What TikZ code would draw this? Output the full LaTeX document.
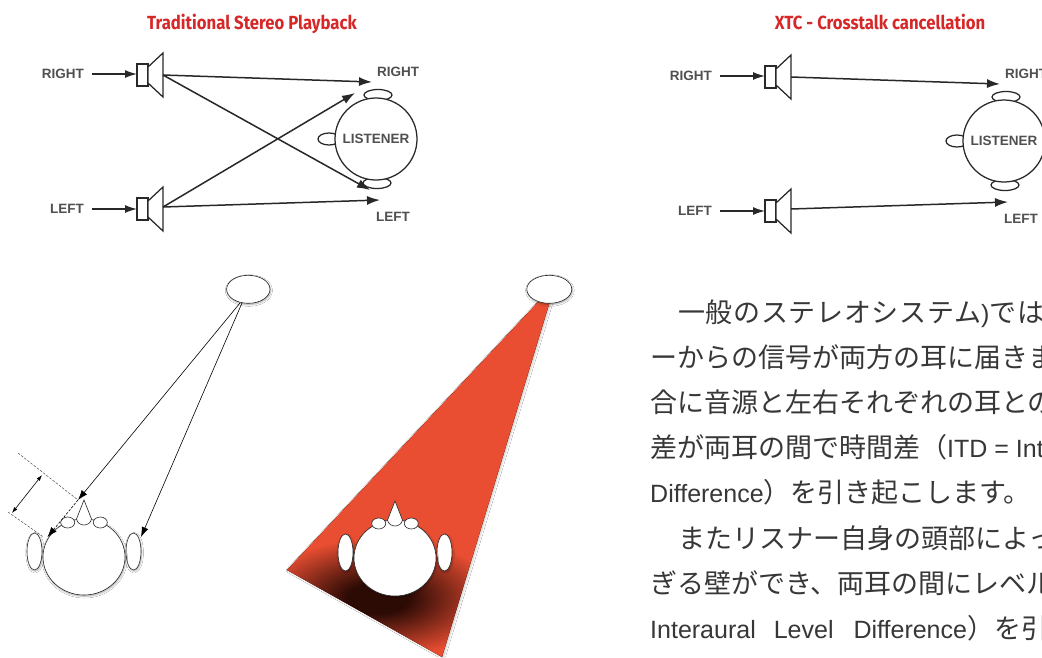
\documentclass[tikz,border=0pt]{standalone}
\usepackage{fontspec}
\setmainfont{Liberation Sans}
\newfontfamily\jpfont{Noto Sans CJK JP}
\newfontfamily\latfont{Liberation Sans}
\newfontfamily\titlefont[FakeStretch=0.88]{Fira Sans}
\usetikzlibrary{arrows.meta,shadows.blur}

\definecolor{titlered}{RGB}{214,40,40}
\definecolor{beamred}{RGB}{234,78,50}
\definecolor{shadedark}{RGB}{45,11,5}
\definecolor{labelgray}{RGB}{80,80,80}
\definecolor{linegray}{RGB}{40,40,40}
\definecolor{textgray}{RGB}{55,55,55}

% dark patch under the head, fading into the beam colour
\pgfdeclareradialshading{headshade}{\pgfpoint{0bp}{0bp}}{%
  color(0bp)=(shadedark); color(1.3bp)=(shadedark); color(5bp)=(beamred); color(50bp)=(beamred)}

\newcommand{\lat}[1]{{\latfont\fontsize{25}{25}\selectfont #1}}

\tikzset{
  title/.style={font=\titlefont\bfseries\fontsize{19}{19}\selectfont, text=titlered, inner sep=0pt, anchor=base},
  lbl/.style={font=\fontsize{13.5}{13.5}\selectfont\bfseries, text=labelgray, inner sep=0pt},
  spkline/.style={draw=linegray, line width=1.25pt, line join=miter},
  wire/.style={draw=linegray, line width=1.5pt, -{Latex[length=13pt,width=9pt]}},
  inwire/.style={draw=linegray, line width=1.4pt, -{Latex[length=12pt,width=8pt]}},
  thinline/.style={draw=black, line width=0.6pt},
  ray/.style={thinline, -{Latex[length=10pt,width=7pt]}},
  dimline/.style={thinline, {Latex[length=6pt,width=4pt]}-{Latex[length=6pt,width=4pt]}},
  guide/.style={draw=black!70, line width=0.5pt, dash pattern=on 2.5pt off 1.5pt},
  soft/.style={blur shadow={shadow xshift=0.6pt, shadow yshift=-1.2pt,
      shadow blur radius=1.8pt, shadow opacity=35, shadow blur steps=6}},
  outline/.style={draw=black!85, line width=0.6pt, fill=white},
  jp/.style={font=\jpfont\fontsize{27}{27}\selectfont, text=textgray, inner sep=0pt, anchor=base west},
  % loudspeaker: magnet box and cone, origin at the cone's back
  speaker/.pic={
    \draw[spkline, fill=white] (-13,-11) rectangle (-2,11);
    \draw[spkline, fill=white] (-2,-8) -- (13,-22) -- (13,22) -- (-2,8) -- cycle;
  },
  % listener seen from above, facing left
  listener/.pic={
    \draw[spkline, fill=white] (2,-44) ellipse [x radius=14, y radius=5.5];
    \draw[spkline, fill=white] (1,44) ellipse [x radius=14, y radius=5.5];
    \draw[spkline, fill=white] (-47,0) ellipse [x radius=11, y radius=6];
    \draw[spkline, fill=white] (0,0) circle [radius=41];
    \node[lbl] (-name) at (0,0) {LISTENER};
  },
  % head seen from above, facing up
  topview/.pic={
    \draw[outline, soft] (-49.5,-5.5) ellipse [x radius=7.5, y radius=18.5];
    \draw[outline, soft] (49.5,-5.5) ellipse [x radius=7.5, y radius=18.5];
    \draw[outline, soft] (0,0) ellipse [x radius=41, y radius=38];
    \draw[outline] (-16.3,-34.5) ellipse [x radius=7, y radius=5.5];
    \draw[outline] (16.3,-34.5) ellipse [x radius=7, y radius=5.5];
    \draw[outline] (0,-57) -- (-7.5,-38) .. controls (-6,-30) and (6,-30) .. (7.5,-38) -- cycle;
  },
}

\begin{document}
\begin{tikzpicture}[x=1pt,y=-1pt]
\useasboundingbox (0,0) rectangle (1042,657);
\clip (0,0) rectangle (1042,657);
\fill[white] (0,0) rectangle (1042,657);

% ---------- traditional stereo playback ----------
\node[title] (t1) at (252,29.3) {Traditional Stereo Playback};
\node[lbl, anchor=east] (inR) at (84,74) {RIGHT};
\node[lbl, anchor=east] (inL) at (84,209) {LEFT};
\pic at (150,75) {speaker};
\pic at (150,209) {speaker};
\coordinate (spkRin) at (137,74);
\coordinate (spkLin) at (137,209);
\coordinate (spkR) at (163,75);
\coordinate (spkL) at (163,207);
\pic (h1) at (376,139) {listener};
\node[lbl] (earR) at (398,72) {RIGHT};
\node[lbl] (earL) at (393,217) {LEFT};
\coordinate (tR) at (372,82);
\coordinate (tRx) at (355,93);
\coordinate (tL) at (380,200);
\coordinate (tLx) at (370,190);
\draw[inwire] ([xshift=8pt]inR.east) -- (spkRin);
\draw[inwire] ([xshift=8pt]inL.east) -- (spkLin);
\draw[wire] (spkR) -- (tR);
\draw[wire] (spkR) -- (tLx);
\draw[wire] (spkL) -- (tL);
\draw[wire] (spkL) -- (tRx);

% ---------- crosstalk cancellation ----------
\node[title] (t2) at (880,29) {XTC - Crosstalk cancellation};
\begin{scope}[shift={(628,2)}]
  \node[lbl, anchor=east] (xinR) at (84,74) {RIGHT};
  \node[lbl, anchor=east] (xinL) at (84,209) {LEFT};
  \pic at (150,75) {speaker};
  \pic at (150,209) {speaker};
  \coordinate (xspkRin) at (137,74);
  \coordinate (xspkLin) at (137,209);
  \coordinate (xspkR) at (163,75);
  \coordinate (xspkL) at (163,207);
  \pic (h2) at (376,139) {listener};
  \node[lbl] (xearR) at (398,72) {RIGHT};
  \node[lbl] (xearL) at (393,217) {LEFT};
  \coordinate (xtR) at (372,82);
  \coordinate (xtL) at (380,200);
  \draw[inwire] ([xshift=8pt]xinR.east) -- (xspkRin);
  \draw[inwire] ([xshift=8pt]xinL.east) -- (xspkLin);
  \draw[wire] (xspkR) -- (xtR);
  \draw[wire] (xspkL) -- (xtL);
\end{scope}

% ---------- interaural time difference ----------
\coordinate (srcA) at (240,303);
\coordinate (srcB) at (242,303);
\coordinate (nose) at (78,500);
\coordinate (earLt) at (47.5,537);
\coordinate (earRt) at (141,537);
\draw[guide] (18,453) -- (nose);
\draw[guide] (8,512) -- (43.5,537);
\draw[dimline] (42,475) -- (12,513);
\draw[ray] (srcA) -- (nose);
\draw[ray] (srcB) -- (earRt);
\pic at (84,557) {topview};
\draw[ray, dash pattern=on 2.5pt off 1.5pt] (nose) -- (earLt);
\draw[outline, soft] (248.3,289.3) ellipse [x radius=21.7, y radius=14];

% ---------- interaural level difference ----------
\fill[beamred, blur shadow={shadow xshift=1.2pt, shadow yshift=-0.5pt, shadow blur radius=2pt, shadow opacity=22}]
  (287,570) -- (539,301) -- (550,301) -- (442,657) -- cycle;
\begin{scope}
  \clip (287,570) -- (539,301) -- (550,301) -- (442,657) -- cycle;
  \fill[shading=headshade] (-222,298) rectangle (978,898);
\end{scope}
\pic at (395,558) {topview};
\draw[outline, soft] (549.3,289.3) ellipse [x radius=22.5, y radius=14];

% ---------- explanation ----------
\node[jp] (p1) at (678,322) {\addfontfeature{LetterSpace=2.5}一般のステレオシステム\lat{)}では};
\node[jp] (p2) at (650,367) {ーからの信号が両方の耳に届きま};
\node[jp] (p3) at (650,412) {合に音源と左右それぞれの耳との};
\node[jp] (p4) at (650,457) {差が両耳の間で時間差（\lat{ITD = Int}};
\node[jp] (p5) at (650,502) {\lat{Difference}）を引き起こします。};
\node[jp] (p6) at (678,548) {またリスナー自身の頭部によっ};
\node[jp] (p7) at (650,593) {ぎる壁ができ、両耳の間にレベル};
\node[jp] (p8) at (650,638) {\lat{Interaural\hspace{18pt}Level\hspace{20pt}Difference}）を引};
\end{tikzpicture}
\end{document}
